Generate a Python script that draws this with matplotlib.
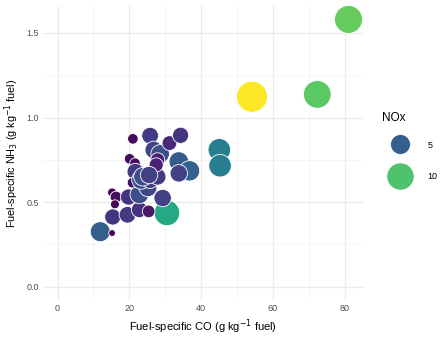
import numpy as np
import matplotlib
matplotlib.use("Agg")
import matplotlib.pyplot as plt
from matplotlib.lines import Line2D

plt.rcParams['font.family'] = ['Liberation Sans', 'DejaVu Sans']

# Data
co = [81.1, 54.2, 72.4, 45.1, 45.3, 30.5, 11.9, 15.2, 15.4, 19.5,
      22.8, 25.4, 15.2, 16.3, 16.0, 19.8, 22.8, 25.2, 29.3, 21.0,
      20.1, 21.6, 21.7, 20.9, 23.3, 25.8, 27.9, 25.8, 26.8, 28.6,
      27.9, 27.5, 31.2, 34.3, 33.8, 36.8, 33.8, 23.8, 25.5]
nh3 = [1.58, 1.123, 1.137, 0.809, 0.715, 0.436, 0.325, 0.317, 0.412, 0.425,
       0.455, 0.445, 0.557, 0.530, 0.487, 0.530, 0.545, 0.585, 0.524, 0.874,
       0.756, 0.730, 0.680, 0.615, 0.632, 0.630, 0.650, 0.893, 0.809, 0.785,
       0.750, 0.720, 0.849, 0.895, 0.740, 0.685, 0.670, 0.650, 0.660]
nox = [10.5, 13.3, 10.3, 6.5, 6.5, 8.6, 5.0, 1.5, 3.3, 3.5,
       3.2, 2.2, 1.6, 2.0, 1.6, 3.3, 4.3, 4.0, 3.8, 1.8,
       1.8, 1.8, 3.5, 1.8, 4.5, 3.5, 3.5, 3.5, 3.8, 4.3,
       2.6, 2.6, 2.8, 3.3, 4.8, 5.2, 3.8, 4.3, 3.8]
legend_vals = [5, 10]
x_ticks = [0, 20, 40, 60, 80]
y_ticks = [0.0, 0.5, 1.0, 1.5]

DPI = 100
fig = plt.figure(figsize=(4.46, 3.39), dpi=DPI)
ax = fig.add_axes([0.0964, 0.115, 0.7176, 0.867])

vmin, vmax = min(nox), max(nox)
cmap = plt.get_cmap('viridis')

def diam_px(v):
    t = (v - vmin) / (vmax - vmin)
    return 6.7 + 24.3 * np.sqrt(max(t, 0))

def size_s(v):
    d_pt = diam_px(v) * 72.0 / DPI
    return d_pt ** 2

cols = [cmap((v - vmin) / (vmax - vmin)) for v in nox]
sizes = [size_s(v) for v in nox]

ax.scatter(co, nh3, s=sizes, c=cols, edgecolors='white', linewidths=0.6, zorder=3)

xmax = max(co)
ymax = max(nh3)
ax.set_xlim(-0.05 * xmax, xmax * 1.05)
ax.set_ylim(-0.05 * ymax, ymax * 1.05)

ax.set_xticks(x_ticks)
ax.set_xticklabels([str(v) for v in x_ticks])
ax.set_yticks(y_ticks)
ax.set_yticklabels([f"{v:.1f}" for v in y_ticks])
ax.set_xticks([10, 30, 50, 70], minor=True)
ax.set_yticks([0.25, 0.75, 1.25], minor=True)
ax.grid(True, which='major', color='#ebebeb', linewidth=0.9, zorder=0)
ax.grid(True, which='minor', color='#f2f2f2', linewidth=0.5, zorder=0)
ax.set_axisbelow(True)
for sp in ax.spines.values():
    sp.set_visible(False)
ax.tick_params(which='both', length=0, labelsize=6.5, labelcolor='#4d4d4d', pad=3)

ax.set_xlabel('Fuel-specific CO (g kg$^{-1}$ fuel)', fontsize=8.0, color='black', labelpad=3)
ax.set_ylabel('Fuel-specific NH$_3$ (g kg$^{-1}$ fuel)', fontsize=7.8, color='black', labelpad=4)

handles = [Line2D([], [], linestyle='none', marker='o',
                  markersize=diam_px(v) * 72.0 / DPI,
                  markerfacecolor=cmap((v - vmin) / (vmax - vmin)),
                  markeredgecolor='white', markeredgewidth=0.6) for v in legend_vals]
leg = ax.legend(handles, [str(v) for v in legend_vals], title='NOx',
                loc='upper left', bbox_to_anchor=(1.06, 0.64), frameon=False,
                fontsize=6.5, title_fontsize=8.5, labelspacing=2.5,
                handlelength=4.0, handletextpad=1.0, borderaxespad=0,
                borderpad=0)
leg._legend_box.align = 'left'
leg._legend_box.sep = 12

fig.savefig('out.png', dpi=DPI)
